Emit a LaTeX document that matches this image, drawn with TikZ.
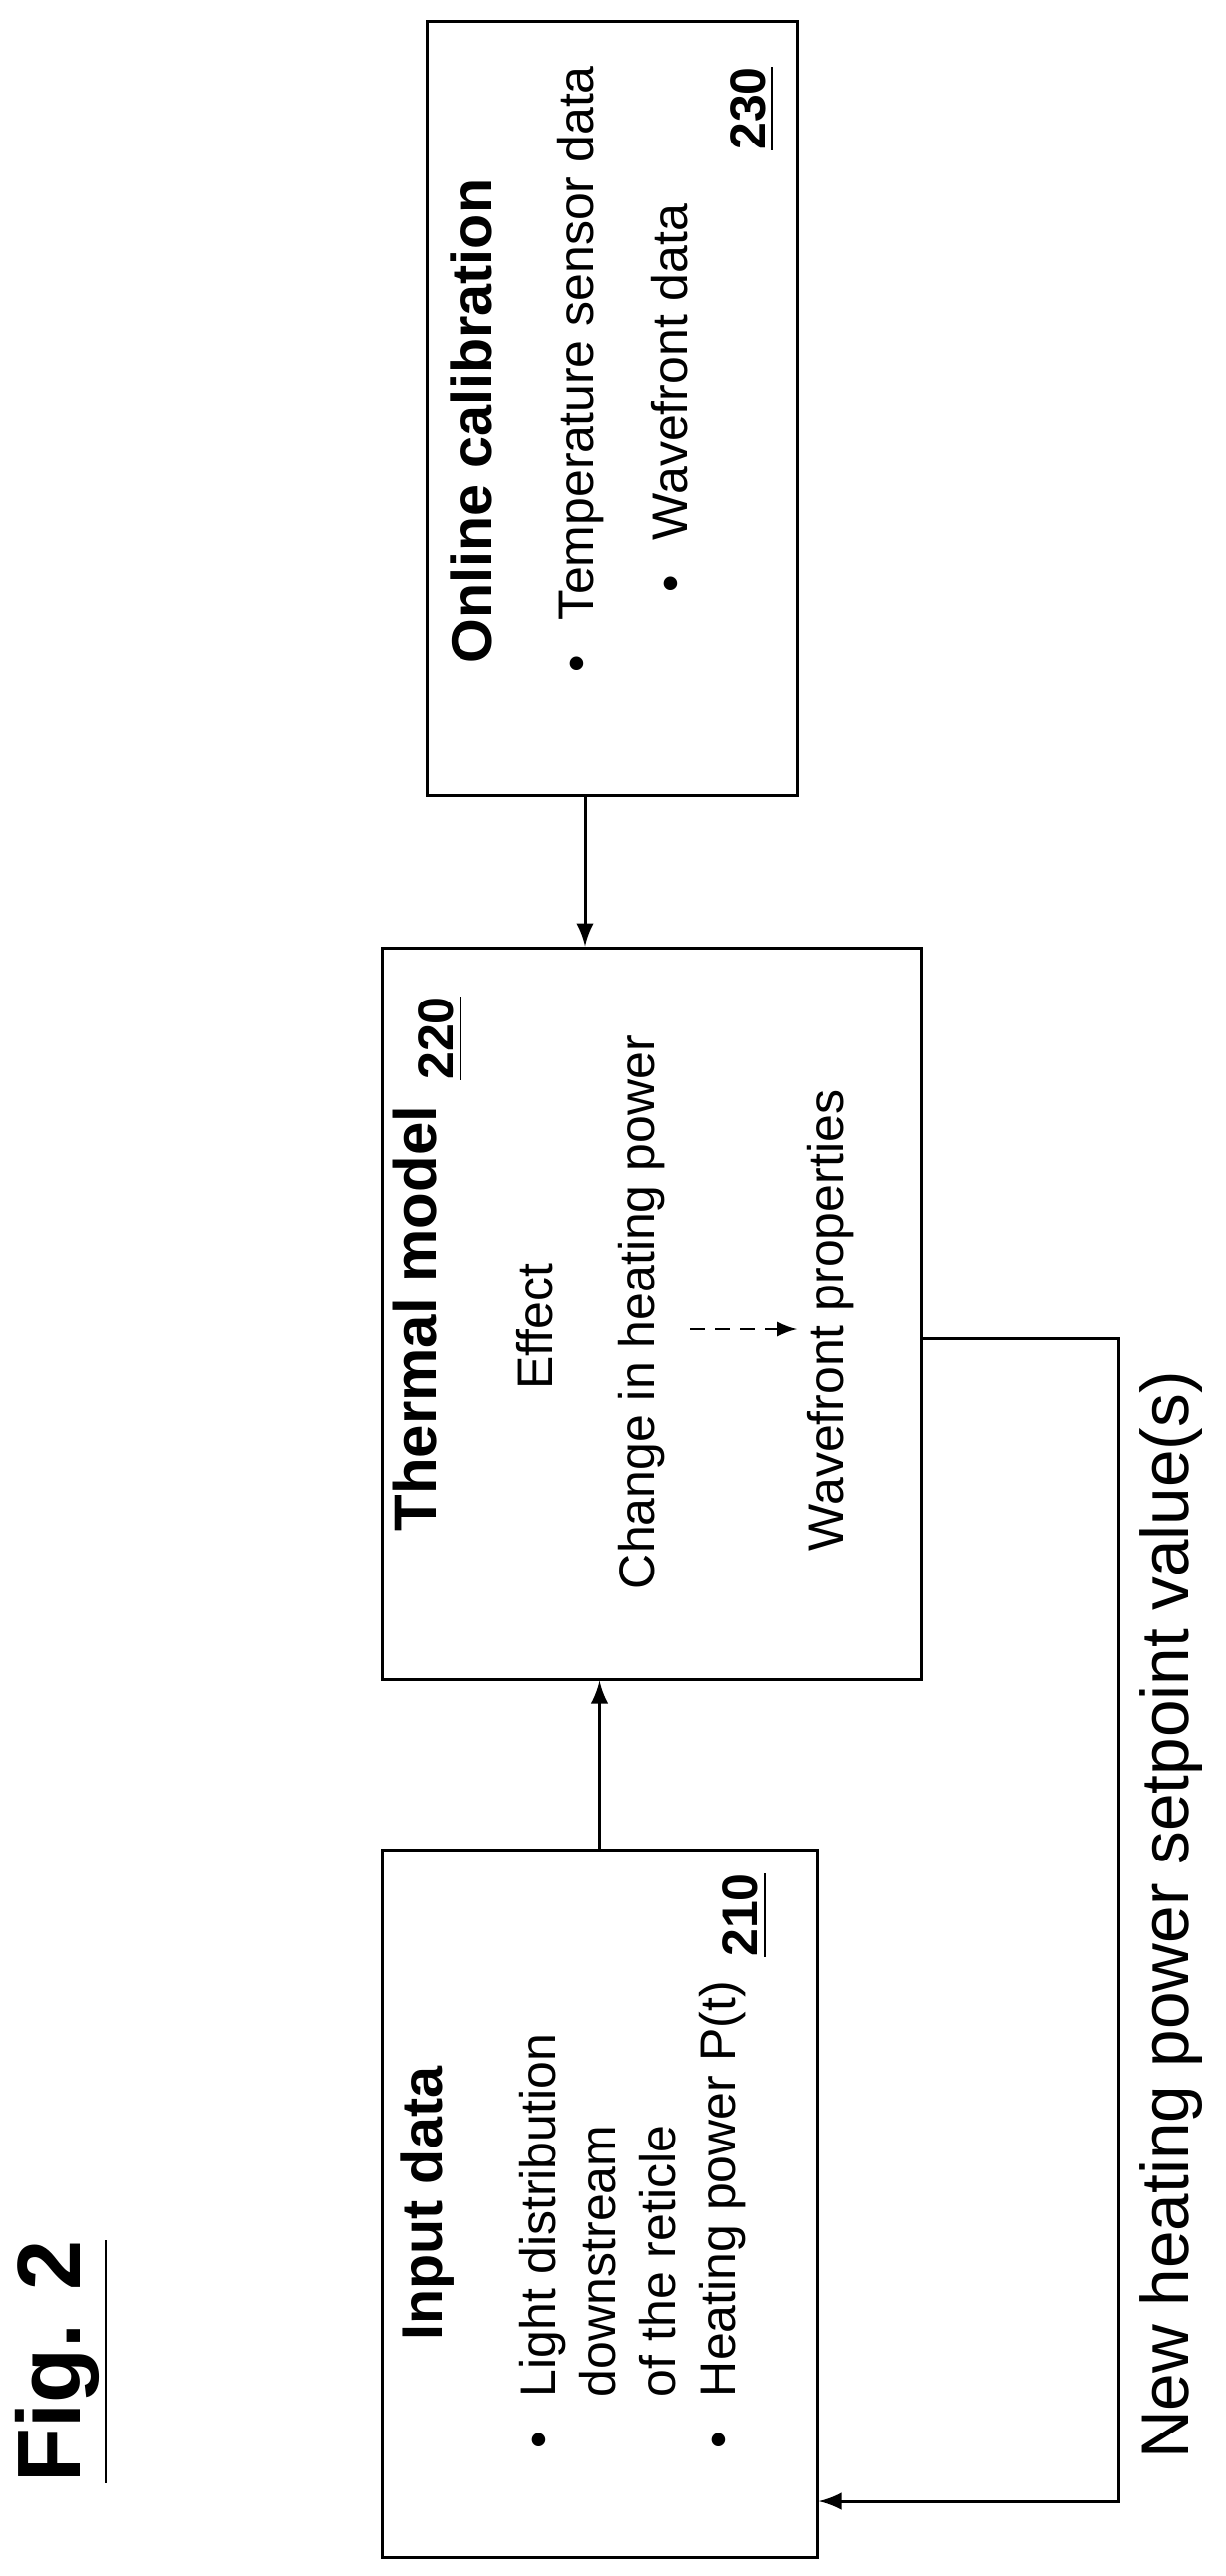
\documentclass[tikz,border=0pt]{standalone}
\usepackage{fontspec}
\setmainfont{Liberation Sans}
\usetikzlibrary{positioning}
\tikzset{every picture/.style={line width=0.6pt}}
\tikzset{
  box/.style={draw, rectangle, inner sep=0pt},
  arr/.style={-latex},
  txt/.style={rotate=90, inner sep=0pt, font=\fontsize{10}{12}\selectfont},
  head/.style={rotate=90, inner sep=0pt, font=\fontsize{11.5}{13}\selectfont\bfseries},
}
\newcommand{\bul}{\textbullet\hspace{7pt}}
\begin{document}
\begin{tikzpicture}[x=0.2pt,y=0.2pt,yscale=-1,xscale=1]
\useasboundingbox (0,0) rectangle (1229,2585);

%Shape: Rectangle [calibration]
\node [box, minimum width=74.4pt, minimum height=155.2pt] (calib) at (614,410) {};
%Shape: Rectangle [thermal model]
\node [box, minimum width=108.2pt, minimum height=146.8pt] (thermal) at (653.5,1318) {};
%Shape: Rectangle [input data]
\node [box, minimum width=87.4pt, minimum height=142pt] (input) at (601.5,2211) {};

%Straight Lines
\coordinate (cx) at (587,0);
\draw [arr] (calib.south -| cx) -- (thermal.north -| cx);
\draw [arr] (input.north) -- (input.north |- thermal.south);
%Feedback line
\coordinate (fbR) at (1122,1343);
\coordinate (fbL) at (1122,2510);
\draw [arr] (thermal.east |- fbR) -- (fbR) -- (fbL) -- (input.east |- fbL);

% Text Node
\node [head, anchor=west] (calibT) at (473,667) {Online calibration};
% Text Node
\node [txt, anchor=west] (temp) at (583,676) {\bul Temperature sensor data};
% Text Node
\node [txt, anchor=west] (wave) at (672,596) {\bul Wavefront data};
% Text Node
\node [txt, font=\fontsize{10}{12}\selectfont\bfseries] (n230) at (755,109) {\underline{230}};

% Text Node
\node [head, font=\fontsize{12}{14}\selectfont\bfseries, anchor=west] (thermT) at (416,1538) {Thermal model};
% Text Node
\node [txt, font=\fontsize{10}{12}\selectfont\bfseries] (n220) at (442,1042) {\underline{220}};
% Text Node
\node [txt] (effect) at (537,1331) {Effect};
% Text Node
\node [txt] (change) at (644,1317) {Change in heating power};
% Text Node
\node [txt] (wfprop) at (834,1325) {Wavefront properties};
\coordinate (dA) at (692,1334);
\coordinate (dB) at (800,1334);
\draw [arr, densely dashed, line width=0.4pt] (dA) -- (dB);

% Text Node
\node [head, anchor=west] (inputT) at (429,2350) {Input data};
% Text Node
\node [txt, anchor=west, align=left] (light) at (600,2459) {\bul Light distribution\\ \hphantom{\bul}downstream\\ \hphantom{\bul}of the reticle};
% Text Node
\node [txt, anchor=west] (heat) at (725,2459) {\bul Heating power P(t)};
% Text Node
\node [txt, font=\fontsize{10}{12}\selectfont\bfseries] (n210) at (747,1922) {\underline{210}};

% Text Node
\node [txt, font=\fontsize{13.5}{16}\selectfont] (newhp) at (1175,1922) {New heating power setpoint value(s)};
% Text Node
\node [txt, font=\fontsize{18}{20}\selectfont\bfseries] (fig) at (62,2370) {\underline{Fig. 2}};

\end{tikzpicture}
\end{document}
